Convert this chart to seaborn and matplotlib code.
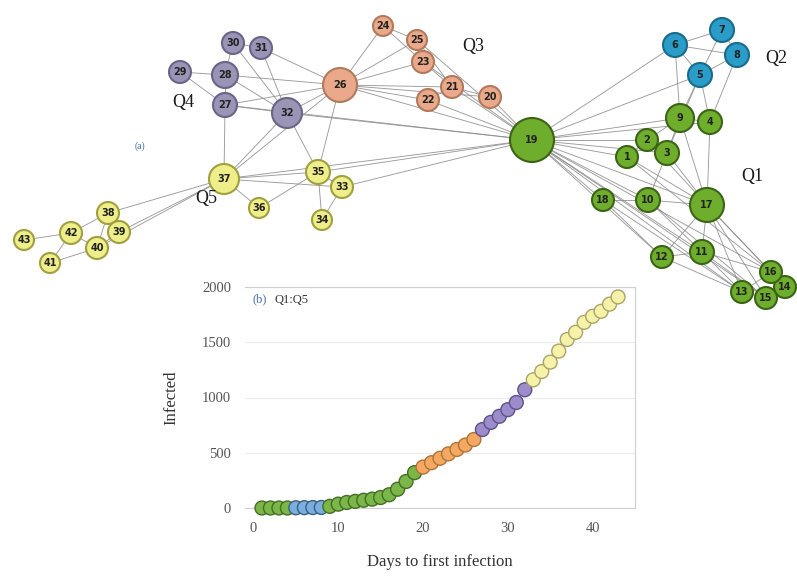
import numpy as np
import pandas as pd
import seaborn as sns
import matplotlib.pyplot as plt

# network: node id, group, pixel layout (x, y) and radius
node_ids = list(range(1, 44))
node_group = (['Q1'] * 4 + ['Q2'] * 4 + ['Q1'] * 11 + ['Q3'] * 7
              + ['Q4'] * 6 + ['Q5'] * 11)
node_x = [627, 647, 667, 710, 700, 675, 722, 737, 680, 648, 702, 662, 742, 785, 766,
          771, 707, 603, 532, 490, 452, 428, 423, 383, 417, 340, 225, 225, 180, 233,
          261, 287, 342, 322, 318, 259, 224, 108, 119, 97, 50, 71, 24]
node_y = [157, 140, 153, 122, 75, 45, 30, 55, 118, 200, 252, 257, 292, 287, 298,
          272, 205, 200, 140, 97, 87, 100, 62, 26, 40, 85, 105, 75, 72, 43,
          48, 113, 187, 220, 172, 208, 179, 213, 232, 248, 263, 233, 240]
node_r = [11, 11, 12, 12, 12, 12, 12, 12, 14, 12, 12, 11, 11, 11, 11,
          11, 17, 11, 22, 11, 11, 11, 11, 10, 10, 17, 12, 13, 11, 11,
          11, 15, 11, 10, 12, 10, 15, 11, 11, 11, 10, 11, 10]

edges = [(19, 1), (19, 2), (19, 3), (19, 9), (19, 10), (19, 17), (19, 18), (19, 12),
         (19, 11), (19, 13), (19, 15), (19, 16), (19, 4), (19, 6), (19, 5),
         (19, 20), (19, 21), (19, 22), (19, 23), (19, 25), (19, 26), (19, 32),
         (19, 35), (19, 33), (19, 37), (19, 27),
         (6, 7), (6, 8), (7, 8), (5, 6), (5, 7), (5, 8), (5, 9), (5, 4), (8, 4),
         (6, 9), (5, 3), (9, 4), (9, 2), (2, 1), (2, 3), (3, 9), (1, 17), (3, 17),
         (9, 17), (4, 17), (2, 17), (18, 10), (10, 17), (17, 11), (17, 12),
         (17, 13), (17, 15), (17, 16), (11, 12), (11, 13), (11, 15), (11, 16),
         (12, 13), (18, 12), (10, 11), (10, 3), (16, 13), (13, 15), (15, 14),
         (16, 14), (17, 14), (10, 15), (18, 13), (1, 16),
         (26, 24), (26, 25), (26, 23), (26, 21), (26, 22), (26, 20), (24, 25),
         (24, 23), (25, 23), (23, 21), (21, 22), (21, 20), (25, 21),
         (29, 28), (29, 27), (28, 27), (28, 32), (27, 32), (30, 32), (31, 32),
         (30, 31), (31, 26), (28, 26), (27, 26), (32, 26), (30, 28), (27, 37),
         (32, 37), (32, 35), (26, 35), (26, 37),
         (37, 35), (37, 33), (37, 36), (35, 33), (35, 34), (33, 34), (36, 35),
         (37, 38), (37, 39), (37, 40), (38, 39), (38, 42), (39, 40), (42, 40),
         (42, 43), (42, 41), (41, 40), (38, 40)]

# infection curve: day of first infection vs cumulative infected
days = list(range(1, 44))
infected = [0, 0, 0, 0, 2, 3, 4, 5, 15, 35, 50, 60, 70, 80, 95, 120, 170, 240,
            320, 370, 410, 450, 490, 530, 570, 620, 710, 775, 830, 890, 955,
            1070, 1160, 1235, 1320, 1420, 1525, 1590, 1680, 1735, 1780, 1845, 1910]
day_group = node_group

node_fill = {'Q1': '#6fae2c', 'Q2': '#2a9cc8', 'Q3': '#e9a98a', 'Q4': '#9a94b6', 'Q5': '#eeee8a'}
node_edge = {'Q1': '#3b6416', 'Q2': '#1a6a8c', 'Q3': '#b27a5c', 'Q4': '#6a6588', 'Q5': '#a0a040'}
pt_fill = {'Q1': '#7ab648', 'Q2': '#7aaede', 'Q3': '#f5a862', 'Q4': '#9d8ccc', 'Q5': '#f6f2a8'}
pt_edge = {'Q1': '#456d26', 'Q2': '#3d5f80', 'Q3': '#b07338', 'Q4': '#5e5288', 'Q5': '#a9a46a'}

nodes = pd.DataFrame({'id': node_ids, 'group': node_group, 'x': node_x,
                      'y': node_y, 'r': node_r})
curve = pd.DataFrame({'day': days, 'infected': infected, 'group': day_group})

serif = ['Liberation Serif', 'DejaVu Serif']
sns.set_theme(style='white')
plt.rcParams['font.family'] = serif

fig = plt.figure(figsize=(7.97, 5.81), dpi=100)

# (a) network
net = fig.add_axes([0, 0, 1, 1])
net.set_xlim(0, 797)
net.set_ylim(581, 0)
net.axis('off')
pos = nodes.set_index('id')
for a, b in edges:
    net.plot([pos.x[a], pos.x[b]], [pos.y[a], pos.y[b]], color='#8a8a8a',
             lw=0.65, alpha=0.85, zorder=1)
sns.scatterplot(data=nodes, x='x', y='y', hue='group', palette=node_fill,
                s=(1.44 * nodes['r']) ** 2, edgecolor=[node_edge[g] for g in nodes.group],
                linewidth=1.5, legend=False, ax=net, zorder=2)
for _, n in nodes.iterrows():
    net.text(n.x, n.y, str(n.id), ha='center', va='center', fontsize=7,
             fontweight='bold', color='#222222', family='DejaVu Sans', zorder=3)
for lab, lx, ly in [('Q1', 752, 177), ('Q2', 776, 58), ('Q3', 473, 47),
                    ('Q4', 183, 103), ('Q5', 206, 198)]:
    net.text(lx, ly, lab, ha='center', va='center', fontsize=13, color='#1a1a1a')
net.text(140, 146, '(a)', ha='center', va='center', fontsize=7, color='#4a6fa5')

# (b) infection curve
ax = fig.add_axes([245 / 797, 73 / 581, 390 / 797, 221 / 581])
ax.set_facecolor('white')
sns.scatterplot(data=curve, x='day', y='infected', hue='group', palette=pt_fill,
                s=100, edgecolor=[pt_edge[g] for g in curve.group], linewidth=1.0,
                legend=False, ax=ax, clip_on=False, zorder=3)
ax.set_xlim(-1, 45)
ax.set_ylim(0, 2000)
ax.set_xticks([0, 10, 20, 30, 40])
ax.set_yticks([0, 500, 1000, 1500, 2000])
ax.yaxis.grid(True, color='#ececec', lw=0.8)
for s in ['top', 'right', 'bottom']:
    ax.spines[s].set_color('#cfcfcf')
    ax.spines[s].set_linewidth(0.8)
ax.spines['left'].set_visible(False)
ax.tick_params(axis='both', labelsize=10.5, colors='#555555', length=0, pad=10)
ax.set_xlabel('Days to first infection', fontsize=12, color='#333333', labelpad=14)
ax.set_ylabel('Infected', fontsize=12, color='#333333', labelpad=16)
ax.text(0.02, 0.97, '(b)', transform=ax.transAxes, fontsize=9, color='#4a6fa5',
        va='top')
ax.text(0.075, 0.97, 'Q1:Q5', transform=ax.transAxes, fontsize=9, color='#333333',
        va='top')

fig.savefig('out.png', dpi=100)
